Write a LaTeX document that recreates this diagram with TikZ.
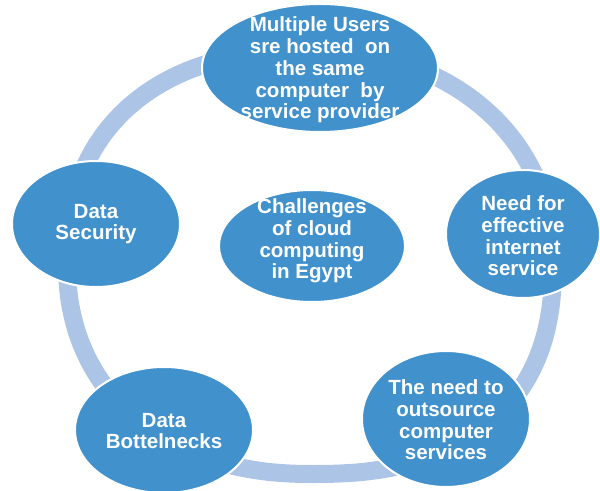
\documentclass[tikz,border=0pt]{standalone}
\usepackage{fontspec}
\setmainfont{Liberation Sans}
\usetikzlibrary{shapes.geometric}
\definecolor{bubblue}{RGB}{65,145,205}
\definecolor{ringblue}{RGB}{172,197,230}
\begin{document}
\begin{tikzpicture}[x=0.75pt,y=-0.75pt,
  bub/.style 2 args={ellipse, fill=bubblue, draw=white, line width=1.5pt,
    minimum width=#1*1.5pt, minimum height=#2*1.5pt, inner sep=0pt},
  txt/.style={text=white, font=\fontsize{15.4}{16.3}\selectfont\bfseries,
    align=center, inner sep=0pt},
  ring/.style={draw=ringblue, line width=13.5pt, line join=round}]
\useasboundingbox (0,0) rectangle (600,491);
\clip (0,0) rectangle (600,491);
\draw[ring]
  plot[domain=0.05:89.95, samples=60, variable=\t]
    ({312+241*cos(\t)^(2/2.1)}, {262-212*sin(\t)^(2/2.1)})
  -- plot[domain=90.05:179.95, samples=60, variable=\t]
    ({312-245*(-cos(\t))^(2/2.3)}, {262-212*sin(\t)^(2/2.3)})
  -- plot[domain=180.05:269.95, samples=60, variable=\t]
    ({312-245*(-cos(\t))^(2/2.2)}, {262+212*(-sin(\t))^(2/2.2)})
  -- plot[domain=270.05:359.95, samples=60, variable=\t]
    ({312+241*cos(\t)^(2/2.4)}, {262+212*(-sin(\t))^(2/2.4)})
  -- cycle;
\node[bub={118}{64}] (b1) at (320,68) {};
\node[bub={77}{64}] (b2) at (523,234) {};
\node[bub={84}{68}] (b3) at (446,419) {};
\node[bub={89}{63}] (b4) at (164,430) {};
\node[bub={84}{63}] (b5) at (96,224) {};
\node[bub={93}{56}] (b0) at (312,246) {};
\node[txt] (t1) at (320,70) {Multiple Users\\sre hosted\ \ on\\the same\\computer\ \ by\\service provider};
\node[txt] (t2) at (523,236) {Need for\\effective\\internet\\service};
\node[txt] (t3) at (446,420) {The need to\\outsource\\computer\\services};
\node[txt] (t4) at (164,431) {Data\\Bottelnecks};
\node[txt] (t5) at (96,224) {Data\\Security};
\node[txt] (t0) at (312,241) {Challenges\\of cloud\\computing\\in Egypt};
\end{tikzpicture}
\end{document}
